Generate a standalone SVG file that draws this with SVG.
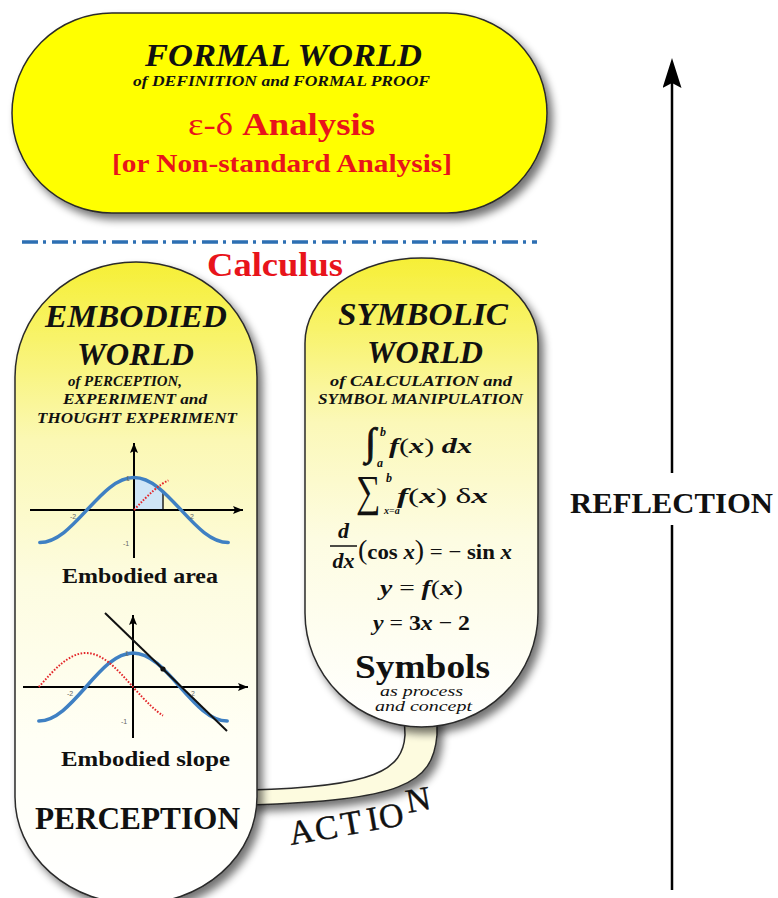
<svg xmlns="http://www.w3.org/2000/svg" width="778" height="898" viewBox="0 0 778 898">
<style>
.t{font-family:"Liberation Serif","Times New Roman",serif;fill:#111}
.bi{font-weight:bold;font-style:italic}
.b{font-weight:bold}
.it{font-style:italic}
.up{font-style:normal;font-weight:normal}
.red{fill:#e8141b}
.axis{stroke:#000;stroke-width:2;fill:none}
.cos{stroke:#3f80c3;stroke-width:3.5;fill:none;stroke-linecap:round}
.dotted{stroke:#e3262a;stroke-width:2;stroke-dasharray:1.6 1.6;fill:none}
.tick{font-family:"Liberation Sans",Arial,sans-serif;font-size:7px;fill:#666}
.outline{stroke:#2a2a2a;stroke-width:1.5}
.mid{text-anchor:middle}
</style>
<defs>
<filter id="sh" x="-10%" y="-10%" width="130%" height="130%">
<feGaussianBlur in="SourceAlpha" stdDeviation="4"/>
<feOffset dx="5" dy="6" result="o"/>
<feComponentTransfer><feFuncA type="linear" slope="0.55"/></feComponentTransfer>
<feMerge><feMergeNode/><feMergeNode in="SourceGraphic"/></feMerge>
</filter>
<linearGradient id="gE" gradientUnits="userSpaceOnUse" x1="0" y1="262" x2="0" y2="898">
<stop offset="0" stop-color="#f6ef36"/>
<stop offset="0.12" stop-color="#f8f36a"/>
<stop offset="0.28" stop-color="#fbf8b4"/>
<stop offset="0.5" stop-color="#fdfce0"/>
<stop offset="0.75" stop-color="#fffff5"/>
<stop offset="1" stop-color="#ffffff"/>
</linearGradient>
<linearGradient id="gS" gradientUnits="userSpaceOnUse" x1="0" y1="258" x2="0" y2="727">
<stop offset="0" stop-color="#f6ef36"/>
<stop offset="0.15" stop-color="#f8f36a"/>
<stop offset="0.35" stop-color="#fbf8b8"/>
<stop offset="0.6" stop-color="#fdfce2"/>
<stop offset="1" stop-color="#ffffff"/>
</linearGradient>
<marker id="ah" markerUnits="userSpaceOnUse" markerWidth="12" markerHeight="10" refX="10" refY="4" orient="auto">
<path d="M0,0 L10,4 L0,8 L2,4 z" fill="#000"/>
</marker>
<marker id="bigArrow" markerUnits="userSpaceOnUse" markerWidth="32" markerHeight="20" refX="18" refY="9.5" orient="auto">
<path d="M0,0 L30,9.5 L0,19 L5,9.5 z" fill="#000"/>
</marker>
</defs>
<rect width="778" height="898" fill="#fff"/>

<g id="formal-world">
<rect x="12" y="13" width="535" height="200" rx="100" ry="100" fill="#ffff00" class="outline" filter="url(#sh)"/>
<text class="t bi mid" x="283.5" y="66" font-size="32" textLength="277" lengthAdjust="spacingAndGlyphs">FORMAL WORLD</text>
<text class="t bi mid" x="281.5" y="86" font-size="15.5" textLength="297" lengthAdjust="spacingAndGlyphs">of DEFINITION and FORMAL PROOF</text>
<text class="t b mid red" x="281.5" y="135" font-size="31" textLength="187" lengthAdjust="spacingAndGlyphs"><tspan font-weight="normal">ε-δ </tspan>Analysis</text>
<text class="t b mid red" x="282" y="172" font-size="25" textLength="340" lengthAdjust="spacingAndGlyphs">[or Non-standard Analysis]</text>
</g>

<g id="separator">
<line x1="22" y1="242" x2="537" y2="242" stroke="#2d6fb3" stroke-width="3.5" stroke-dasharray="16 5 3 6"/>
</g>

<g id="connectors">
<path id="action-band" d="M 404 712 L 405 735 C 403 770 375 787 250 790 L 250 805 C 400 800 433 785 437 735 L 437 712 Z" fill="#fdfbdf" class="outline" filter="url(#sh)"/>
<line x1="672" y1="473" x2="672" y2="70" stroke="#000" stroke-width="2.5" marker-end="url(#bigArrow)"/>
<line x1="672" y1="525" x2="672" y2="890" stroke="#000" stroke-width="2.5"/>
</g>

<g id="calculus-label">
<text class="t b mid red" x="275" y="276" font-size="33" textLength="136" lengthAdjust="spacingAndGlyphs">Calculus</text>
</g>

<g id="embodied-world">
<path d="M 15 377 A 121 115 0 0 1 257 377 L 257 797 A 121 107 0 0 1 15 797 Z" fill="url(#gE)" class="outline" filter="url(#sh)"/>
<text class="t bi mid" x="136" y="327" font-size="32" textLength="182" lengthAdjust="spacingAndGlyphs">EMBODIED</text>
<text class="t bi mid" x="135.5" y="365" font-size="32" textLength="117" lengthAdjust="spacingAndGlyphs">WORLD</text>
<text class="t bi mid" x="125" y="386" font-size="15" textLength="114" lengthAdjust="spacingAndGlyphs">of PERCEPTION,</text>
<text class="t bi mid" x="135" y="404" font-size="15" textLength="144" lengthAdjust="spacingAndGlyphs">EXPERIMENT and</text>
<text class="t bi mid" x="137" y="423" font-size="15" textLength="200" lengthAdjust="spacingAndGlyphs">THOUGHT EXPERIMENT</text>

<g id="graph-area">
<path d="M134 510 L134 477.5 Q147.3 477.5 163 491.5 L163 510 Z" fill="#cfe5f6"/>
<line x1="163" y1="491" x2="163" y2="510" stroke="#222" stroke-width="1.5"/>
<line x1="30" y1="510" x2="243" y2="510" class="axis" marker-end="url(#ah)"/>
<line x1="134" y1="558" x2="134" y2="443" class="axis" marker-end="url(#ah)"/>
<path class="cos" d="M39.8 542.5 C56.8 542.5 71.5 526.6 86.9 510 C102.2 493.4 116.9 477.5 134 477.5 C151.1 477.5 165.8 493.4 181.1 510 C196.5 526.6 211.2 542.5 228.2 542.5"/>
<path class="dotted" d="M134 510 Q156.5 485.6 168.4 480.3"/>
<text class="tick mid" x="73" y="519">-2</text>
<text class="tick mid" x="192" y="519">2</text>
<text class="tick mid" x="126" y="546">-1</text>
<text class="tick mid" x="128" y="481">1</text>
</g>
<text class="t b mid" x="140" y="583" font-size="20" textLength="156" lengthAdjust="spacingAndGlyphs">Embodied area</text>

<g id="graph-slope">
<line x1="23" y1="687" x2="248" y2="687" class="axis" marker-end="url(#ah)"/>
<line x1="133" y1="738" x2="133" y2="615" class="axis" marker-end="url(#ah)"/>
<path class="cos" d="M38.8 721 C55.8 721 70.5 704.4 85.9 687 C101.2 669.6 115.9 653 133 653 C150.1 653 164.8 669.6 180.1 687 C195.5 704.4 210.2 721 227.2 721"/>
<path class="dotted" d="M38.8 687 C54.1 669.6 68.8 653 85.9 653 C102.9 653 117.6 669.6 133 687 Q152.6 709.2 163 715.6"/>
<line x1="105" y1="613" x2="227" y2="731" stroke="#111" stroke-width="2"/>
<circle cx="163" cy="669" r="2.6" fill="#111"/>
<text class="tick mid" x="70" y="696">-2</text>
<text class="tick mid" x="193" y="696">2</text>
<text class="tick mid" x="124" y="724">-1</text>
<text class="tick mid" x="127" y="656">1</text>
</g>
<text class="t b mid" x="145.5" y="766" font-size="20" textLength="169" lengthAdjust="spacingAndGlyphs">Embodied slope</text>
<text class="t b mid" x="137.5" y="829" font-size="31" textLength="205" lengthAdjust="spacingAndGlyphs">PERCEPTION</text>
</g>

<g id="symbolic-world">
<path d="M 305 343 A 116.5 85 0 0 1 538 343 L 538 613 A 116.5 114 0 0 1 305 613 Z" fill="url(#gS)" class="outline" filter="url(#sh)"/>
<text class="t bi mid" x="423" y="325" font-size="32" textLength="170" lengthAdjust="spacingAndGlyphs">SYMBOLIC</text>
<text class="t bi mid" x="425" y="363" font-size="32" textLength="116" lengthAdjust="spacingAndGlyphs">WORLD</text>
<text class="t bi mid" x="421" y="386" font-size="15" textLength="182" lengthAdjust="spacingAndGlyphs">of CALCULATION and</text>
<text class="t bi mid" x="420.5" y="404" font-size="15" textLength="205" lengthAdjust="spacingAndGlyphs">SYMBOL MANIPULATION</text>

<text class="t" x="365" y="455" font-size="39" stroke="#111" stroke-width="0.9">∫</text>
<text class="t bi" x="380" y="436" font-size="12">b</text>
<text class="t bi" x="377" y="467" font-size="12">a</text>
<text class="t bi" x="389" y="453" font-size="22" textLength="83" lengthAdjust="spacingAndGlyphs">f<tspan class="up">(</tspan>x<tspan class="up">)</tspan> dx</text>

<text class="t" transform="translate(356,506) scale(0.78,1)" x="0" y="0" font-size="44">∑</text>
<text class="t bi" x="386" y="482" font-size="12">b</text>
<text class="t bi" x="384" y="514" font-size="10">x<tspan class="up">=</tspan>a</text>
<text class="t bi" x="397" y="503" font-size="22" textLength="91" lengthAdjust="spacingAndGlyphs">f<tspan class="up">(</tspan>x<tspan class="up">)</tspan> <tspan class="up">δ</tspan>x</text>

<text class="t bi mid" x="343.5" y="538" font-size="22">d</text>
<line x1="330" y1="546" x2="357" y2="546" stroke="#111" stroke-width="1.5"/>
<text class="t bi mid" x="343.5" y="568" font-size="22">dx</text>
<text class="t b" x="358" y="559" font-size="22" textLength="154" lengthAdjust="spacingAndGlyphs"><tspan class="up" font-size="27">(</tspan>cos <tspan class="bi">x</tspan><tspan class="up" font-size="27">)</tspan><tspan class="up"> = − </tspan>sin <tspan class="bi">x</tspan></text>

<text class="t bi mid" x="421.5" y="595" font-size="22" textLength="83" lengthAdjust="spacingAndGlyphs">y<tspan class="up"> = </tspan>f<tspan class="up">(</tspan>x<tspan class="up">)</tspan></text>
<text class="t bi mid" x="421.5" y="630" font-size="22" textLength="97" lengthAdjust="spacingAndGlyphs">y<tspan class="up"> = </tspan><tspan font-style="normal">3</tspan>x<tspan class="up"> − </tspan><tspan font-style="normal">2</tspan></text>

<text class="t b mid" x="422.5" y="678" font-size="34" textLength="135" lengthAdjust="spacingAndGlyphs">Symbols</text>
<text class="t it mid" x="421.5" y="696" font-size="15" textLength="83" lengthAdjust="spacingAndGlyphs">as process</text>
<text class="t it mid" x="423.5" y="711" font-size="15" textLength="97" lengthAdjust="spacingAndGlyphs">and concept</text>
</g>

<g id="action-label">
<text class="t" font-size="34" stroke="#111" stroke-width="0.4" x="291 317 343 369 381 408" y="845 841 836 831 829 813" rotate="-10 -10 -10 -10 -10 -10">ACTION</text>
</g>

<g id="reflection-label">
<text class="t b" x="570" y="513" font-size="29" textLength="203" lengthAdjust="spacingAndGlyphs">REFLECTION</text>
</g>
</svg>
